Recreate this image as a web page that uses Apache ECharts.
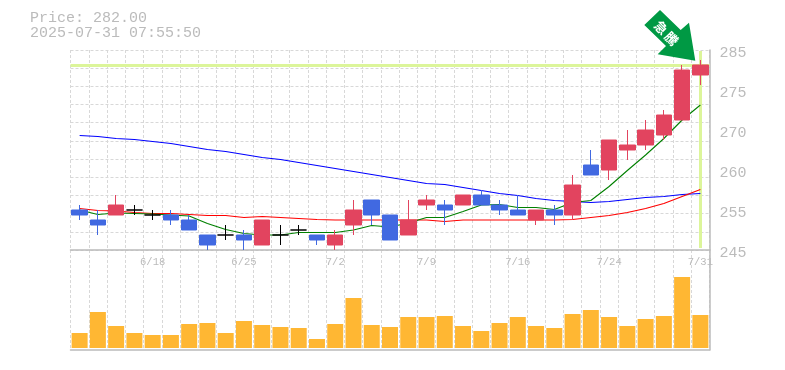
<!DOCTYPE html>
<html>
<head>
<meta charset="utf-8">
<style>
  html, body { margin: 0; padding: 0; background: #fff; }
  #main { width: 785px; height: 370px; }
</style>
<script src="https://cdn.jsdelivr.net/npm/echarts@6/dist/echarts.min.js"></script>
</head>
<body>
<div id="main"></div>
<script>
const dates = ['6/12', '6/13', '6/16', '6/17', '6/18', '6/19', '6/20', '6/23', '6/24', '6/25',
  '6/26', '6/27', '6/30', '7/1', '7/2', '7/3', '7/4', '7/7', '7/8', '7/9',
  '7/10', '7/11', '7/14', '7/15', '7/16', '7/17', '7/18', '7/22', '7/23', '7/24',
  '7/25', '7/28', '7/29', '7/30', '7/31'];

const opens = [253, 251, 252, 253, 252, 252, 251, 248, 248, 248, 246, 248, 249, 248, 246, 250, 255, 252,
  248, 254, 254, 254, 256, 254, 253, 251, 253, 252, 262, 261, 265, 266, 268, 271, 280];
const closes = [252, 250, 254, 253, 252, 251, 249, 246, 248, 247, 251, 248, 249, 247, 248, 253, 252, 247,
  251, 255, 253, 256, 254, 253, 252, 253, 252, 258, 260, 267, 266, 269, 272, 281, 282];
const highs = [254, 253, 256, 254, 253, 253, 252, 248, 250, 249, 251, 250, 250, 248, 249, 255, 255, 252,
  255, 256, 255, 256, 257, 255, 256, 253, 254, 260, 265, 267, 269, 271, 273, 282, 283];
const lows = [251, 248, 252, 252, 251, 250, 249, 245, 247, 245, 246, 246, 248, 246, 245, 248, 250, 247,
  248, 253, 250, 254, 254, 252, 252, 250, 250, 251, 260, 259, 263, 265, 267, 271, 278];

const ma5 = [253, 252.1, 252.4, 252.3, 252.2, 252, 251.8, 250.3, 249.1, 248.3, 248, 248, 248.5, 248.5, 248.5,
  249, 249.9, 249.6, 250.4, 251.5, 251.5, 252.7, 254, 254.1, 253.5, 253.5, 253.1, 254.5, 254.9, 257.7,
  260.9, 264, 267.3, 271, 274];
const ma25 = [253.3, 252.9, 252.8, 252.5, 252.3, 252.3, 252.1, 251.9, 251.9, 251.5, 251.7, 251.5, 251.3, 251.1, 251,
  251, 251, 251, 251, 251, 250.7, 251, 251, 251, 251, 251, 251, 251.1, 251.5, 251.9,
  252.5, 253.3, 254.3, 255.7, 257.1];
const ma75 = [267.9, 267.7, 267.3, 267.1, 266.7, 266.3, 265.7, 265.1, 264.7, 264.1, 263.5, 263.1, 262.5, 261.9, 261.3,
  260.7, 260.1, 259.5, 258.9, 258.3, 258.1, 257.5, 256.9, 256.3, 255.9, 255.3, 254.9, 254.7, 254.5, 254.7,
  255.1, 255.5, 255.7, 256.1, 256.3];
const volumes = [15, 36, 22, 15, 13, 13, 24, 25, 15, 27, 23, 21, 20, 9, 24, 50, 23, 21,
  31, 31, 32, 22, 17, 25, 31, 22, 20, 34, 38, 31, 22, 29, 32, 71, 33];

const tickPrices = [285, 277, 269, 261, 253, 245];
const tickLabels = ['285', '275', '270', '260', '255', '245'];
const lastPrice = 282;
const lastDate = '7/31';

const mono = '"Liberation Mono", monospace';
const axisGrey = '#bbbbbb';
const gridLine = { show: true, lineStyle: { color: '#d8d8d8', type: [3, 2], width: 1 } };
const noTick = { show: false };

const chart = echarts.init(document.getElementById('main'), null, { renderer: 'canvas' });

function maSeries(name, data, color) {
  return {
    name: name,
    type: 'line',
    data: data,
    xAxisIndex: 0,
    yAxisIndex: 0,
    showSymbol: false,
    silent: true,
    z: 2,
    lineStyle: { color: color, width: 1.1 },
    animation: false
  };
}

const option = {
  animation: false,
  backgroundColor: '#fff',
  title: {
    text: 'Price: 282.00\n2025-07-31 07:55:50',
    left: 30,
    top: 11,
    padding: 0,
    textStyle: { color: axisGrey, fontFamily: mono, fontSize: 15, fontWeight: 'normal', lineHeight: 15 }
  },
  grid: [
    { left: 70.5, top: 50, width: 639, height: 200 },
    { left: 70.5, top: 250, width: 639, height: 100 }
  ],
  xAxis: [{
    type: 'category',
    gridIndex: 0,
    data: dates,
    boundaryGap: true,
    axisTick: noTick,
    axisLine: { show: true, onZero: false, lineStyle: { color: axisGrey, width: 1.5 } },
    splitLine: Object.assign({ interval: 0 }, gridLine),
    axisLabel: {
      interval: function (i) { return i % 5 === 4; },
      color: axisGrey,
      fontFamily: mono,
      fontSize: 10.5,
      margin: 7,
      hideOverlap: false
    }
  }, {
    type: 'category',
    gridIndex: 1,
    data: dates,
    boundaryGap: true,
    axisTick: noTick,
    axisLabel: { show: false },
    axisLine: { show: true, onZero: false, lineStyle: { color: axisGrey, width: 1.5 } },
    splitLine: Object.assign({ interval: 0 }, gridLine)
  }],
  yAxis: [{
    type: 'value',
    gridIndex: 0,
    position: 'right',
    min: 245,
    max: 285,
    scale: true,
    splitLine: { show: false },
    axisTick: noTick,
    axisLine: { show: true, onZero: false, lineStyle: { color: axisGrey, width: 1.5 } },
    axisLabel: {
      customValues: tickPrices,
      formatter: function (v) { return tickLabels[tickPrices.indexOf(v)]; },
      color: axisGrey,
      fontFamily: mono,
      fontSize: 15,
      margin: 10,
      verticalAlign: 'top',
      lineHeight: 7,
      hideOverlap: false
    }
  }, {
    // dashed rows only, they do not line up with the price labels
    type: 'value',
    gridIndex: 0,
    position: 'left',
    min: 0,
    max: 11,
    interval: 1,
    axisLine: { show: false },
    axisTick: noTick,
    axisLabel: { show: false },
    splitLine: gridLine
  }, {
    type: 'value',
    gridIndex: 1,
    position: 'right',
    min: -2,
    max: 98,
    splitLine: { show: false },
    axisTick: noTick,
    axisLabel: { show: false },
    axisLine: { show: true, onZero: false, lineStyle: { color: axisGrey, width: 1.5 } }
  }],
  series: [
    maSeries('MA75', ma75, '#0000ff'),
    maSeries('MA25', ma25, '#ff0000'),
    maSeries('MA5', ma5, '#008000'),
    {
      name: 'price',
      type: 'candlestick',
      xAxisIndex: 0,
      yAxisIndex: 0,
      z: 3,
      barWidth: 16,
      data: dates.map(function (d, i) { return [opens[i], closes[i], lows[i], highs[i]]; }),
      itemStyle: {
        color: '#e2445f',
        color0: '#4169e1',
        borderColor: '#e2445f',
        borderColor0: '#4169e1',
        borderColorDoji: '#000000',
        borderWidth: 1
      },
      markLine: {
        silent: true,
        z: 1,
        symbol: 'none',
        animation: false,
        label: { show: false },
        lineStyle: { color: '#dcf59a', width: 3, type: 'solid', opacity: 1 },
        data: [
          { yAxis: lastPrice },
          [{ coord: [lastDate, 284.8] }, { coord: [lastDate, 245.4] }]
        ]
      }
    },
    {
      name: 'volume',
      type: 'bar',
      xAxisIndex: 1,
      yAxisIndex: 2,
      barWidth: 16,
      data: volumes,
      itemStyle: { color: '#ffb733' }
    }
  ],
  graphic: [{
    type: 'polygon',
    z: 10,
    shape: { points: [[644.3, 25], [660, 10], [680.7, 30], [689, 22.7], [695.3, 60.7], [657.7, 54.3], [666, 46]] },
    style: { fill: '#009944' }
  }, {
    type: 'text',
    z: 11,
    x: 661,
    y: 27.5,
    rotation: -Math.PI / 4,
    style: { text: '急', fill: '#fff', font: 'bold 13px "Noto Sans CJK JP"', align: 'center', verticalAlign: 'middle' }
  }, {
    type: 'text',
    z: 11,
    x: 671.5,
    y: 38.5,
    rotation: -Math.PI / 4,
    style: { text: '騰', fill: '#fff', font: 'bold 13px "Noto Sans CJK JP"', align: 'center', verticalAlign: 'middle' }
  }]
};

chart.setOption(option);
</script>
</body>
</html>
